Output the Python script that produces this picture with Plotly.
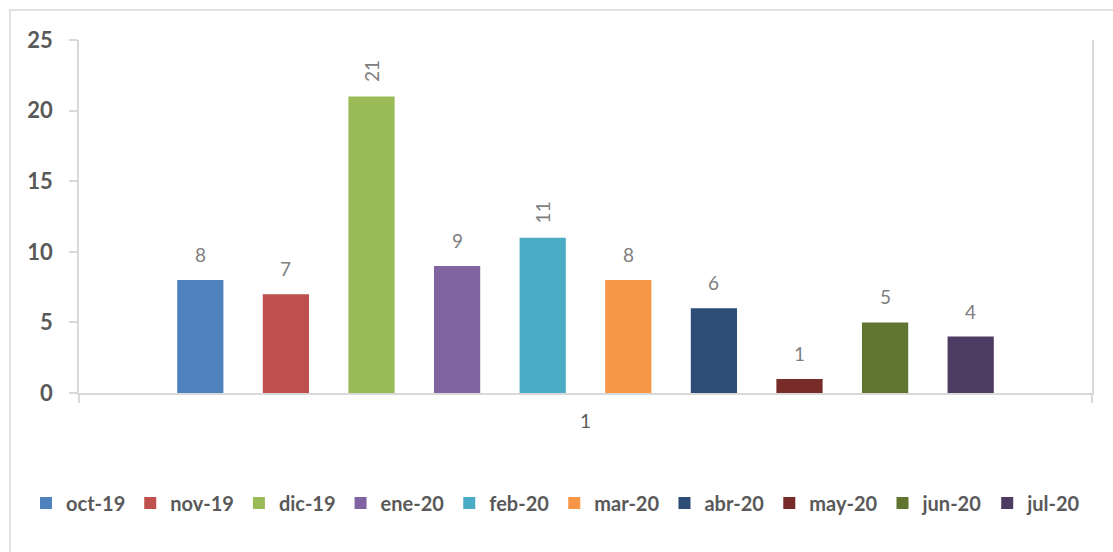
import plotly.graph_objects as go

# Monthly counts, one series per month, all under the single category "1"
months = ["oct-19", "nov-19", "dic-19", "ene-20", "feb-20",
          "mar-20", "abr-20", "may-20", "jun-20", "jul-20"]
counts = [8, 7, 21, 9, 11, 8, 6, 1, 5, 4]
category = ["1"]
colors = ["#4F81BD", "#C0504D", "#9BBB59", "#8064A2", "#4BACC6",
          "#F79646", "#2C4D75", "#772C2A", "#5F7530", "#4D3B62"]
y_ticks = [0, 5, 10, 15, 20, 25]

W, H = 1113, 552
M_L, M_R, M_T, M_B = 79, 21, 40, 159
PLOT_W = W - M_L - M_R
PLOT_H = H - M_T - M_B
BARGAP = 0.155
GROUPGAP = 0.46
AXIS_COLOR = "#D9D9D9"
TEXT_DARK = "#595959"
LABEL_GRAY = "#7F7F7F"

fig = go.Figure()
for name, val, col in zip(months, counts, colors):
    fig.add_trace(go.Bar(
        x=category, y=[val], name=name,
        marker=dict(color=col, line=dict(width=0)),
        hoverinfo="name+y",
    ))

# Value labels above each bar; two-digit values are written vertically.
# On a category axis the annotation x is the category's serial number.
n = len(months)
slot = (1 - BARGAP) / n
annotations = []
for i, val in enumerate(counts):
    offset_px = (i - (n - 1) / 2) * slot * PLOT_W
    vertical = len(str(val)) > 1
    annotations.append(dict(
        x=0, y=val, xref="x", yref="y",
        text=str(val), showarrow=False,
        textangle=-90 if vertical else 0,
        xanchor="center", yanchor="bottom",
        xshift=offset_px, yshift=12,
        font=dict(family="Lato", size=19, color=LABEL_GRAY),
    ))

fig.update_layout(
    width=W, height=H,
    margin=dict(l=M_L, r=M_R, t=M_T, b=M_B, autoexpand=False),
    paper_bgcolor="white", plot_bgcolor="white",
    barmode="group", bargap=BARGAP, bargroupgap=GROUPGAP,
    showlegend=True,
    legend=dict(
        orientation="h",
        x=(26 - M_L) / PLOT_W, xanchor="left",
        y=(H - M_B - 503) / PLOT_H, yanchor="middle",
        font=dict(family="Lato", size=20, color=TEXT_DARK, weight="bold"),
        itemwidth=30, traceorder="normal",
    ),
    annotations=annotations,
    shapes=[dict(
        type="rect", xref="paper", yref="paper",
        x0=(10 - M_L) / PLOT_W, x1=(W + 20 - M_L) / PLOT_W,
        y0=-0.5, y1=(H - M_B - 10) / PLOT_H,
        line=dict(color=AXIS_COLOR, width=1.5), fillcolor="rgba(0,0,0,0)",
        layer="below",
    )],
)

fig.update_xaxes(
    type="category", range=[-0.5, 0.5],
    showline=True, linecolor=AXIS_COLOR, linewidth=2,
    ticks="outside", tickson="boundaries", ticklen=8,
    tickcolor=AXIS_COLOR, tickwidth=1.5,
    showgrid=False, zeroline=False,
    ticklabelstandoff=10,
    tickfont=dict(family="Lato", size=19, color=TEXT_DARK),
)
fig.update_yaxes(
    range=[0, 25], tickvals=y_ticks,
    showline=True, linecolor=AXIS_COLOR, linewidth=1.5, mirror=True,
    ticks="outside", ticklen=8, tickcolor=AXIS_COLOR, tickwidth=1.5,
    showgrid=False, zeroline=False,
    ticklabelstandoff=12,
    tickfont=dict(family="Lato", size=22, color=TEXT_DARK, weight="bold"),
)

fig.write_html("out.html")
